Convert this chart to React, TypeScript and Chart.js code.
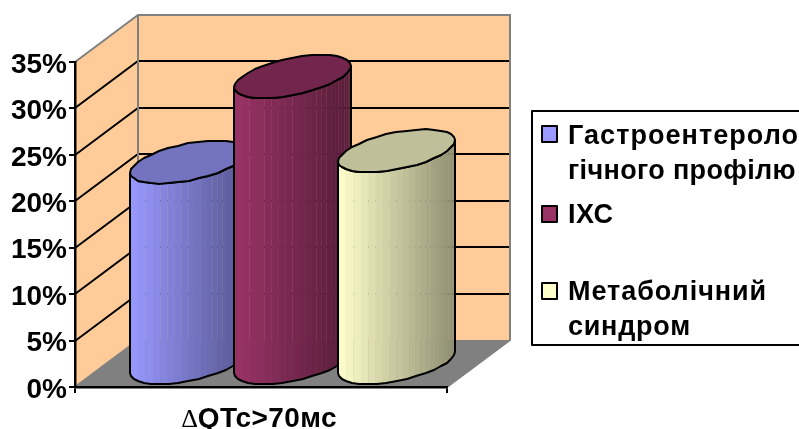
import { useEffect, useRef } from "react";
import { Chart, registerables } from "chart.js";

Chart.register(...registerables);

const categories = ["QTc>70мс"];
const deltaSign = "Δ";
const gastroValues = [21.7];
const ihdValues = [30.9];
const metabolicValues = [22.9];
const gastroLines = ["Гастроентероло", "гічного профілю"];
const ihdLines = ["ІХС"];
const metabolicLines = ["Метаболічний", "синдром"];
const seriesColors = [
  [153, 153, 255],
  [153, 51, 102],
  [255, 255, 204],
];

const FONT = '"Liberation Sans", Arial, sans-serif';
const DEPTH_X = 63;
const DEPTH_Y = 47;
const BAR_DEPTH_X = 58;
const BAR_DEPTH_Y = 43;
const WALL = "#FFCC99";
const EDGE = "#808080";

const rgb = (c: number[], k = 1) =>
  `rgb(${Math.round(c[0] * k)},${Math.round(c[1] * k)},${Math.round(c[2] * k)})`;

// Walls, floor and the gridlines that run across them, placed from the value scale.
const wallsPlugin = {
  id: "walls",
  beforeDraw(chart: any) {
    const { ctx, chartArea, scales } = chart;
    const { left, right, top, bottom } = chartArea;
    const bx = left + DEPTH_X;
    const brx = right + DEPTH_X;
    ctx.save();
    ctx.fillStyle = WALL;
    ctx.fillRect(bx, top - DEPTH_Y, brx - bx, bottom - top);
    ctx.beginPath();
    ctx.moveTo(left, top);
    ctx.lineTo(bx, top - DEPTH_Y);
    ctx.lineTo(bx, bottom - DEPTH_Y);
    ctx.lineTo(left, bottom);
    ctx.closePath();
    ctx.fill();

    ctx.fillStyle = EDGE;
    ctx.beginPath();
    ctx.moveTo(left, bottom);
    ctx.lineTo(right, bottom);
    ctx.lineTo(brx, bottom - DEPTH_Y);
    ctx.lineTo(bx, bottom - DEPTH_Y);
    ctx.closePath();
    ctx.fill();

    ctx.lineWidth = 2;
    ctx.strokeStyle = "#000";
    ctx.beginPath();
    for (const tick of scales.y.ticks) {
      if (tick.value <= 0 || tick.value >= scales.y.max) continue;
      const y = Math.round(scales.y.getPixelForValue(tick.value));
      ctx.moveTo(left, y);
      ctx.lineTo(bx, y - DEPTH_Y);
      ctx.lineTo(brx, y - DEPTH_Y);
    }
    ctx.stroke();

    ctx.strokeStyle = EDGE;
    ctx.beginPath();
    ctx.moveTo(left, bottom);
    ctx.lineTo(bx, bottom - DEPTH_Y);
    ctx.lineTo(bx, top - DEPTH_Y);
    ctx.moveTo(left, top);
    ctx.lineTo(bx, top - DEPTH_Y);
    ctx.lineTo(brx, top - DEPTH_Y);
    ctx.lineTo(brx, bottom - DEPTH_Y);
    ctx.lineTo(right, bottom);
    ctx.stroke();
    ctx.restore();
  },
};

function drawCylinder(ctx: CanvasRenderingContext2D, bar: any, color: number[]) {
  const a = bar.width / 2;
  const ex = BAR_DEPTH_X / 2;
  const ey = BAR_DEPTH_Y / 2;
  const cx = bar.x + DEPTH_X / 2;
  const topY = bar.y - DEPTH_Y / 2;
  const baseY = bar.base - DEPTH_Y / 2;
  const pt = (t: number, cy: number): [number, number] => [
    Math.round(cx + a * Math.cos(t) + ex * Math.sin(t)),
    Math.round(cy - ey * Math.sin(t)),
  ];
  const t0 = Math.atan2(ex, a);
  const steps = 18;

  const silhouette = new Path2D();
  for (let i = 0; i <= steps; i++) {
    const [x, y] = pt(t0 - (Math.PI * i) / steps, topY);
    if (i === 0) silhouette.moveTo(x, y);
    else silhouette.lineTo(x, y);
  }
  for (let i = 0; i <= steps; i++) {
    const [x, y] = pt(t0 - Math.PI + (Math.PI * i) / steps, baseY);
    silhouette.lineTo(x, y);
  }
  silhouette.closePath();

  const xMin = cx - Math.hypot(a, ex);
  const xMax = cx + Math.hypot(a, ex);

  // Facets narrow toward the shaded side; hairline seams between them stay faint over a base coat.
  ctx.save();
  ctx.clip(silhouette);
  const facets = 24;
  const coat = ctx.createLinearGradient(xMin, 0, xMax, 0);
  coat.addColorStop(0, rgb(color));
  coat.addColorStop(1, rgb(color, 0.56));
  ctx.globalAlpha = 0.55;
  ctx.fillStyle = coat;
  ctx.fillRect(xMin, bar.y - 80, xMax - xMin, bar.base - bar.y + 120);
  ctx.globalAlpha = 1;
  for (let i = 0; i < facets; i++) {
    const x0 = xMin + (xMax - xMin) * Math.sin(((i / facets) * Math.PI) / 2);
    const x1 = xMin + (xMax - xMin) * Math.sin((((i + 1) / facets) * Math.PI) / 2);
    const mid = (x0 + x1) / 2;
    ctx.fillStyle = rgb(color, 1 - 0.44 * ((mid - xMin) / (xMax - xMin)));
    ctx.fillRect(x0, bar.y - 80, x1 - x0, bar.base - bar.y + 120);
  }
  ctx.restore();

  ctx.lineWidth = 2;
  ctx.lineJoin = "round";
  ctx.strokeStyle = "#000";
  ctx.stroke(silhouette);

  const lid = new Path2D();
  for (let i = 0; i < steps * 2; i++) {
    const [x, y] = pt((Math.PI * i) / steps, topY);
    if (i === 0) lid.moveTo(x, y);
    else lid.lineTo(x, y);
  }
  lid.closePath();
  ctx.fillStyle = rgb(color, 0.75);
  ctx.fill(lid);
  ctx.stroke(lid);
}

// Each bar element is rendered as a cylinder standing in the middle of the floor's depth.
const cylinderPlugin = {
  id: "cylinders",
  beforeDatasetsDraw(chart: any) {
    chart.data.datasets.forEach((_: any, i: number) => {
      chart.getDatasetMeta(i).data.forEach((bar: any) => {
        drawCylinder(chart.ctx, bar, seriesColors[i]);
      });
    });
    return false;
  },
};

// Category caption with its delta sign in a light serif, plus the framed legend.
const annotationPlugin = {
  id: "annotations",
  afterDraw(chart: any) {
    const { ctx, scales } = chart;
    ctx.save();
    ctx.fillStyle = "#000";
    ctx.textBaseline = "alphabetic";
    ctx.textAlign = "left";

    const boldFont = `bold 28px ${FONT}`;
    const deltaFont = `26px "Liberation Serif", serif`;
    ctx.font = deltaFont;
    const dw = ctx.measureText(deltaSign).width;
    ctx.font = boldFont;
    (ctx as any).letterSpacing = "0.4px";
    const tw = ctx.measureText(categories[0]).width;
    const start = scales.x.getPixelForTick(0) - 2 - (dw + tw) / 2;
    (ctx as any).letterSpacing = "0px";
    ctx.font = deltaFont;
    ctx.fillText(deltaSign, start, 427);
    ctx.font = boldFont;
    (ctx as any).letterSpacing = "0.4px";
    ctx.fillText(categories[0], start + dw, 427);
    (ctx as any).letterSpacing = "0px";

    ctx.lineWidth = 2;
    ctx.strokeStyle = "#000";
    ctx.fillStyle = "#fff";
    ctx.fillRect(532, 111, 280, 234);
    ctx.strokeRect(532, 111, 280, 234);

    const entries = [
      { lines: gastroLines, swatchY: 126, baseline: 144, spacing: [1.05, 0.35] },
      { lines: ihdLines, swatchY: 206, baseline: 223, spacing: [0.5] },
      { lines: metabolicLines, swatchY: 283, baseline: 300, spacing: [0.95, 0.75] },
    ];
    entries.forEach((entry, i) => {
      ctx.fillStyle = rgb(seriesColors[i]);
      ctx.fillRect(542, entry.swatchY, 15, 16);
      ctx.strokeRect(542, entry.swatchY, 15, 16);
      ctx.fillStyle = "#000";
      ctx.font = `bold 27px ${FONT}`;
      entry.lines.forEach((line, j) => {
        (ctx as any).letterSpacing = `${entry.spacing[j]}px`;
        ctx.fillText(line, 568, entry.baseline + j * 34.5);
      });
      (ctx as any).letterSpacing = "0px";
    });
    ctx.restore();
  },
};

export default function App() {
  const canvasRef = useRef<HTMLCanvasElement>(null);

  useEffect(() => {
    const chart = new Chart(canvasRef.current!, {
      type: "bar",
      data: {
        labels: categories,
        datasets: [
          { label: gastroLines.join(""), data: gastroValues, backgroundColor: rgb(seriesColors[0]) },
          { label: ihdLines.join(""), data: ihdValues, backgroundColor: rgb(seriesColors[1]) },
          { label: metabolicLines.join(" "), data: metabolicValues, backgroundColor: rgb(seriesColors[2]) },
        ],
      },
      options: {
        animation: false,
        responsive: false,
        layout: { autoPadding: false, padding: { left: 0, top: 62, right: 352, bottom: 0 } },
        datasets: { bar: { categoryPercentage: 0.839, barPercentage: 0.97 } },
        plugins: { legend: { display: false }, tooltip: { enabled: false } },
        scales: {
          x: {
            afterFit: (s: any) => { s.height = 42; },
            ticks: { display: false },
            border: { color: "#000", width: 2.5 },
            grid: { offset: true, drawOnChartArea: false, color: "#000", lineWidth: 2, tickLength: 6 },
          },
          y: {
            min: 0,
            max: 35,
            afterFit: (s: any) => { s.width = 75; },
            ticks: {
              stepSize: 5,
              padding: 2,
              labelOffset: 3,
              color: "#000",
              font: { family: FONT, size: 28, weight: "bold" },
              callback: (v: any) => `${v}%`,
            },
            border: { color: "#000", width: 2.5 },
            grid: { drawOnChartArea: false, color: "#000", lineWidth: 2, tickLength: 6 },
          },
        },
      },
      plugins: [wallsPlugin, cylinderPlugin, annotationPlugin],
    } as any);
    return () => chart.destroy();
  }, []);

  return (
    <canvas
      ref={canvasRef}
      width={799}
      height={429}
      style={{ position: "fixed", left: 0, top: 0, background: "#fff" }}
    />
  );
}
